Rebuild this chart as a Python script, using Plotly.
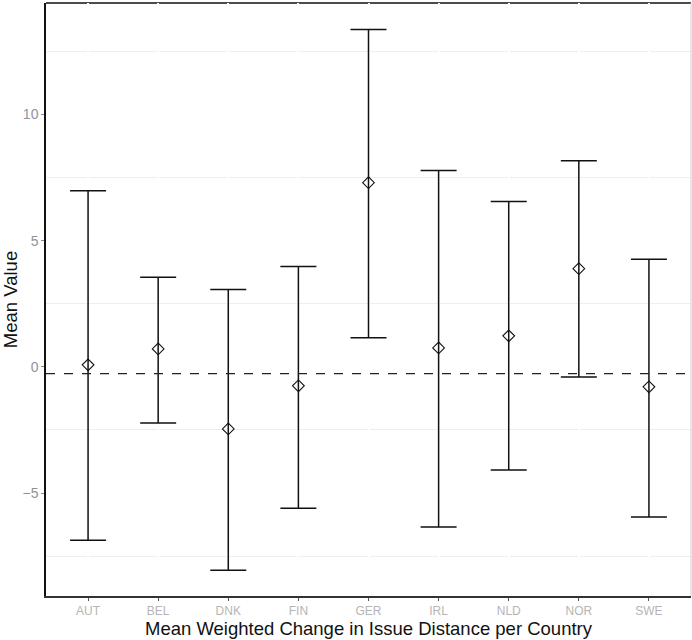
import plotly.graph_objects as go

countries = ["AUT", "BEL", "DNK", "FIN", "GER", "IRL", "NLD", "NOR", "SWE"]
means = [0.08, 0.71, -2.46, -0.75, 7.30, 0.75, 1.23, 3.89, -0.79]
upper = [6.98, 3.55, 3.07, 3.98, 13.37, 7.78, 6.55, 8.17, 4.27]
lower = [-6.87, -2.22, -8.06, -5.60, 1.15, -6.35, -4.09, -0.40, -5.95]
overall_mean = -0.27

err_plus = [u - m for u, m in zip(upper, means)]
err_minus = [m - l for m, l in zip(means, lower)]

fig = go.Figure()
fig.add_trace(go.Scatter(
    x=countries, y=means, mode="markers",
    marker=dict(symbol="diamond-open", size=9, color="#111111", line=dict(width=1.1)),
    error_y=dict(type="data", array=err_plus, arrayminus=err_minus, symmetric=False,
                 color="#111111", thickness=1.5, width=18),
    showlegend=False,
))

fig.add_hline(y=overall_mean, line=dict(color="#222222", width=1.3, dash="dash"))

# top border under gridlines, right border light grey
fig.add_shape(type="line", xref="paper", yref="paper", x0=0, x1=1, y0=1, y1=1,
              line=dict(color="#111111", width=1.6), layer="below")
fig.add_shape(type="line", xref="paper", yref="paper", x0=1, x1=1, y0=0, y1=1,
              line=dict(color="#cfcfcf", width=1), layer="above")

fig.update_layout(
    width=692, height=640,
    margin=dict(l=46, r=1, t=3, b=44),
    paper_bgcolor="white", plot_bgcolor="white",
    font=dict(family="Liberation Sans, Arial, sans-serif"),
    xaxis=dict(
        type="category", range=[-0.6, 8.6], automargin=False,
        showgrid=True, gridcolor="white", gridwidth=1.5,
        showline=True, linecolor="#333333", linewidth=1.5,
        ticks="outside", ticklen=3, tickcolor="#555555",
        tickfont=dict(size=12, color="#b5b5b5"),
        title=dict(text="Mean Weighted Change in Issue Distance per Country",
                   font=dict(size=18.5, color="#111111"), standoff=2),
    ),
    yaxis=dict(
        range=[-9.08, 14.42], automargin=False,
        tickvals=[-5, 0, 5, 10],
        showgrid=False, zeroline=False,
        minor=dict(tickvals=[-7.5, -2.5, 2.5, 7.5, 12.5], showgrid=True,
                   gridcolor="#eeeeee", gridwidth=1, ticks=""),
        showline=True, linecolor="#111111", linewidth=1.5,
        ticks="outside", ticklen=3, tickcolor="#888888",
        tickfont=dict(size=14, color="#8f949c"),
        title=dict(text="Mean Value", font=dict(size=18.5, color="#111111"), standoff=6),
    ),
)

fig.write_html("out.html", config={"displayModeBar": False},
               post_script="document.body.style.margin='0';")
